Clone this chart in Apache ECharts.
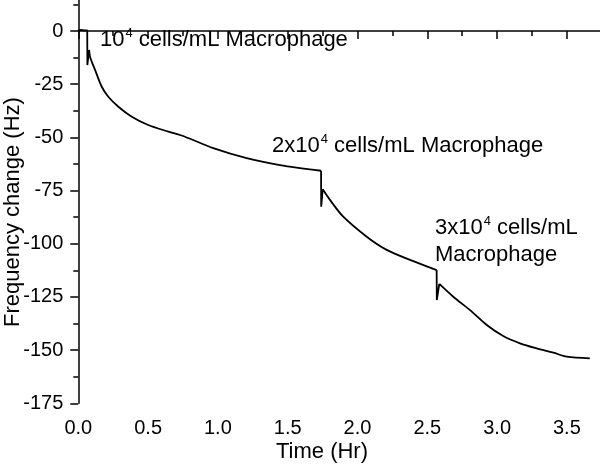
<!DOCTYPE html>
<html>
<head>
<meta charset="utf-8">
<script src="https://cdn.jsdelivr.net/npm/echarts@6/dist/echarts.min.js"></script>
<style>html,body{margin:0;padding:0;background:#fff}#c{width:600px;height:470px}</style>
</head>
<body>
<div id="c"></div>
<script>
var times = [0, 0.02, 0.04, 0.064, 0.065, 0.077, 0.084, 0.096, 0.120, 0.168, 0.215, 0.287, 0.383, 0.501, 0.645, 0.764, 0.967, 1.206, 1.445, 1.739, 1.740, 1.751, 1.803, 1.898, 2.066, 2.209, 2.376, 2.567, 2.568, 2.586, 2.686, 2.806, 2.926, 3.044, 3.164, 3.284, 3.403, 3.499, 3.664];
var freqChange = [0.3, 0.5, 0.3, 0.3, -16.0, -8.9, -12.1, -14.4, -18.3, -26.2, -30.9, -35.6, -40.3, -44.2, -47.3, -49.7, -55.1, -59.8, -63.0, -65.7, -82.6, -74.4, -79.4, -87.3, -96.7, -102.9, -107.6, -112.4, -126.5, -118.9, -124.9, -131.2, -138.2, -143.4, -146.8, -149.2, -151.2, -153.1, -153.9];
// index ranges of the trace: injection spikes drawn straight, decays drawn smooth
var segmentStarts = [0, 5, 19, 21, 27, 29];
var segmentEnds   = [5, 19, 21, 27, 29, 38];
var segmentSmooth = [false, true, false, true, false, true];
var annotCoords = [[0.155, -4.2], [1.388, -54.1], [2.555, -99.1]];
var annotTexts = [
  '{n|10}{sup|4}{n| cells/mL Macrophage}',
  '{n|2x10}{sup|4}{n| cells/mL Macrophage}',
  '{n|3x10}{sup|4}{n| cells/mL}\n{n|Macrophage}'
];
var xTickMin = 0, xTickMax = 4, xInterval = 0.5;
var yTickMin = -175, yTickMax = 25, yInterval = 25;

var FONT = 'Liberation Sans, Arial, Helvetica, sans-serif';
var chart = echarts.init(document.getElementById('c'), null, {renderer: 'canvas'});
var allData = times.map(function (t, i) { return [t, freqChange[i]]; });
var mpData = annotCoords.map(function (c, i) {
  return {coord: c, label: {formatter: annotTexts[i]}};
});
var series = segmentStarts.map(function (s, k) {
  return {
    type: 'line', data: allData.slice(s, segmentEnds[k] + 1), showSymbol: false, symbol: 'none',
    smooth: segmentSmooth[k] ? 0.3 : false,
    lineStyle: {color: '#000', width: 1.8}, clip: true, silent: true
  };
});
series[0].markPoint = {
  symbol: 'circle', symbolSize: 0, silent: true,
  label: {
    show: true, position: 'right', distance: 0, color: '#000',
    fontFamily: FONT, lineHeight: 27,
    rich: {
      n: {fontFamily: FONT, fontSize: 22, color: '#000', lineHeight: 27},
      sup: {fontFamily: FONT, fontSize: 13, color: '#000', verticalAlign: 'top', lineHeight: 27, padding: [0, 0, 10, 1]}
    }
  },
  data: mpData
};
var axisCommon = {
  axisLine: {show: true, lineStyle: {color: '#000', width: 1.5}},
  axisTick: {show: true, inside: false, length: 8, lineStyle: {color: '#000', width: 1.5}},
  minorTick: {show: true, splitNumber: 2, length: 5, lineStyle: {color: '#000', width: 1.5}},
  splitLine: {show: false},
  minorSplitLine: {show: false}
};
chart.setOption({
  animation: false,
  backgroundColor: '#fff',
  grid: {left: 78.3, right: -36.7, top: -22.2, bottom: 66.7, containLabel: false, outerBoundsMode: 'none'},
  xAxis: Object.assign({
    type: 'value', min: xTickMin, max: xTickMax, interval: xInterval,
    name: 'Time (Hr)', nameLocation: 'middle', nameGap: 38, nameMoveOverlap: false,
    nameTextStyle: {fontFamily: FONT, fontSize: 22, color: '#000', padding: [0, 71, 0, 0]},
    axisLabel: {fontFamily: FONT, fontSize: 20, color: '#000', margin: 15, showMaxLabel: false,
      formatter: function (v) { return v.toFixed(1); }}
  }, axisCommon),
  yAxis: Object.assign({
    type: 'value', min: yTickMin, max: yTickMax, interval: yInterval,
    name: 'Frequency change (Hz)', nameLocation: 'middle', nameGap: 54, nameRotate: 90, nameMoveOverlap: false,
    nameTextStyle: {fontFamily: FONT, fontSize: 22, color: '#000', padding: [0, 43, 0, 0]},
    axisLabel: {fontFamily: FONT, fontSize: 20, color: '#000', margin: 15, showMaxLabel: false}
  }, axisCommon),
  series: series
});
</script>
</body>
</html>
